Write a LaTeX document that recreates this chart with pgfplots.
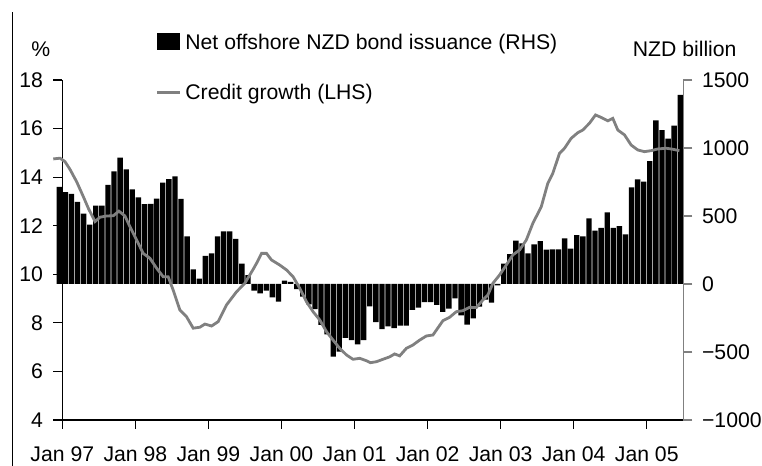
\documentclass[border=0pt]{standalone}
\usepackage{pgfplots}
\pgfplotsset{compat=1.18}
\usepackage{pgfplotstable}
\usepackage{fontspec}
\setmainfont{Liberation Sans}
\definecolor{lgray}{RGB}{128,128,128}

\pgfplotstableread{
x y
-0.5 715
0.5 676
1.5 662
2.5 603
3.5 517
4.5 436
5.5 576
6.5 576
7.5 728
8.5 829
9.5 929
10.5 843
11.5 696
12.5 637
13.5 588
14.5 590
15.5 627
16.5 745
17.5 772
18.5 792
19.5 625
20.5 351
21.5 108
22.5 39
23.5 206
24.5 226
25.5 351
26.5 387
27.5 387
28.5 331
29.5 149
30.5 66
31.5 -49
32.5 -69
33.5 -49
34.5 -98
35.5 -130
36.5 24
37.5 16
38.5 -38
39.5 -92
40.5 -150
41.5 -184
42.5 -301
43.5 -370
44.5 -534
45.5 -498
46.5 -397
47.5 -412
48.5 -444
49.5 -412
50.5 -165
51.5 -280
52.5 -331
53.5 -312
54.5 -325
55.5 -306
56.5 -306
57.5 -191
58.5 -174
59.5 -133
60.5 -133
61.5 -154
62.5 -205
63.5 -182
64.5 -105
65.5 -230
66.5 -298
67.5 -252
68.5 -167
69.5 -115
70.5 -137
71.5 -10
72.5 150
73.5 220
74.5 318
75.5 299
76.5 225
77.5 292
78.5 315
79.5 252
80.5 255
81.5 255
82.5 336
83.5 260
84.5 360
85.5 351
86.5 483
87.5 392
88.5 412
89.5 527
90.5 412
91.5 426
92.5 365
93.5 711
94.5 770
95.5 752
96.5 904
97.5 1203
98.5 1132
99.5 1068
100.5 1164
101.5 1390
}\bonddata

\pgfplotstableread{
x y
-1.48 14.75
-0.38 14.78
0.44 14.64
1.26 14.32
2.36 13.81
3.45 13.20
4.27 12.72
5.37 12.17
6.19 12.35
7.29 12.40
8.37 12.41
9.30 12.60
10.29 12.40
11.11 11.96
12.21 11.41
13.29 10.86
14.39 10.66
15.49 10.25
16.57 9.90
17.39 9.90
18.21 9.35
19.31 8.53
20.41 8.25
21.50 7.78
22.60 7.82
23.42 7.95
24.52 7.87
25.60 8.05
26.98 8.74
28.62 9.28
29.98 9.63
31.34 10.20
31.90 10.45
32.72 10.86
33.54 10.86
34.36 10.59
35.72 10.38
36.82 10.18
37.91 9.90
39.01 9.42
40.10 8.87
41.19 8.46
42.29 8.12
43.39 7.64
44.47 7.29
45.57 6.95
46.67 6.68
47.75 6.50
48.85 6.54
49.95 6.44
50.61 6.36
51.59 6.40
52.67 6.50
53.77 6.60
54.59 6.72
55.41 6.64
56.51 6.95
57.60 7.09
58.70 7.29
59.80 7.46
60.88 7.50
62.52 8.09
63.62 8.23
64.72 8.46
65.80 8.50
66.90 8.64
68.00 8.63
69.08 8.94
69.90 9.15
70.73 9.63
71.82 9.97
72.92 10.38
74.01 10.80
75.11 11.00
76.21 11.41
77.29 12.10
78.67 12.78
79.75 13.75
80.57 14.16
81.67 14.98
82.49 15.19
83.59 15.60
84.67 15.83
85.49 15.94
86.59 16.22
87.58 16.56
88.51 16.46
89.60 16.32
90.42 16.42
91.24 15.94
92.34 15.74
93.44 15.32
94.52 15.12
95.62 15.05
96.72 15.09
97.80 15.16
99.18 15.19
100.26 15.15
101.36 15.09
}\creditdata

\begin{document}
\fontsize{10.6pt}{12.7pt}\selectfont
\begin{tikzpicture}[x=0.5pt,y=0.5pt]
% outer frame line
\draw[line width=0.5pt, black] (12.5,0) -- (12.5,454.3);

% bars (right axis)
\begin{axis}[
  at={(31.15pt,23pt)}, anchor=south west,
  width=310.5pt, height=170pt, scale only axis,
  xmin=0, xmax=102, ymin=-1000, ymax=1500,
  axis x line=none, axis y line*=right,
  y axis line style={draw=lgray, line width=0.6pt},
  ytick={-1000,-500,0,500,1000,1500},
  yticklabels={−1000,−500,0,500,1000,1500},
  tick align=outside, major tick length=4.5pt,
  ytick style={draw=lgray, line width=0.6pt},
  yticklabel style={anchor=west, inner sep=0pt, xshift=4.7pt},
  clip=false,
]
\addplot[ybar, bar width=0.88, bar shift=0pt, fill=black, draw=none] table[x=x,y=y] {\bonddata};
\end{axis}

% line (left axis)
\begin{axis}[
  at={(31.15pt,23pt)}, anchor=south west,
  width=310.5pt, height=170pt, scale only axis,
  xmin=0, xmax=102, ymin=4, ymax=18,
  axis x line*=bottom, axis y line*=left,
  axis line style={draw=black, line width=0.6pt},
  xtick={0,12,24,36,48,60,72,84,96},
  xticklabels={Jan 97,Jan 98,Jan 99,Jan 00,Jan 01,Jan 02,Jan 03,Jan 04,Jan 05},
  ytick={4,6,8,10,12,14,16,18},
  yticklabels={4,6,8,10,12,14,16,18},
  tick align=outside, major tick length=4.5pt,
  tick style={draw=black, line width=0.6pt},
  yticklabel style={anchor=east, inner sep=0pt, xshift=-5pt},
  xticklabel style={anchor=base, inner sep=0pt, yshift=-16.5pt},
  clip=false,
]
\addplot[lgray, line width=1.4pt, mark=none] table[x=x,y=y] {\creditdata};
\end{axis}

% legend and unit labels
\fill[black] (156.7,416) rectangle (180,432.7);
\node[anchor=base west, inner sep=0pt] at (185,416) {Net offshore NZD bond issuance (RHS)};
\draw[lgray, line width=1.4pt] (157,373.3) -- (180,373.3);
\node[anchor=base west, inner sep=0pt] at (185,366) {Credit growth (LHS)};
\node[anchor=base, inner sep=0pt] at (40.8,409.3) {\%};
\node[anchor=base, inner sep=0pt] at (684.7,409.3) {NZD billion};

\pgfresetboundingbox
\useasboundingbox (0,0) rectangle (762,466);
\end{tikzpicture}
\end{document}
